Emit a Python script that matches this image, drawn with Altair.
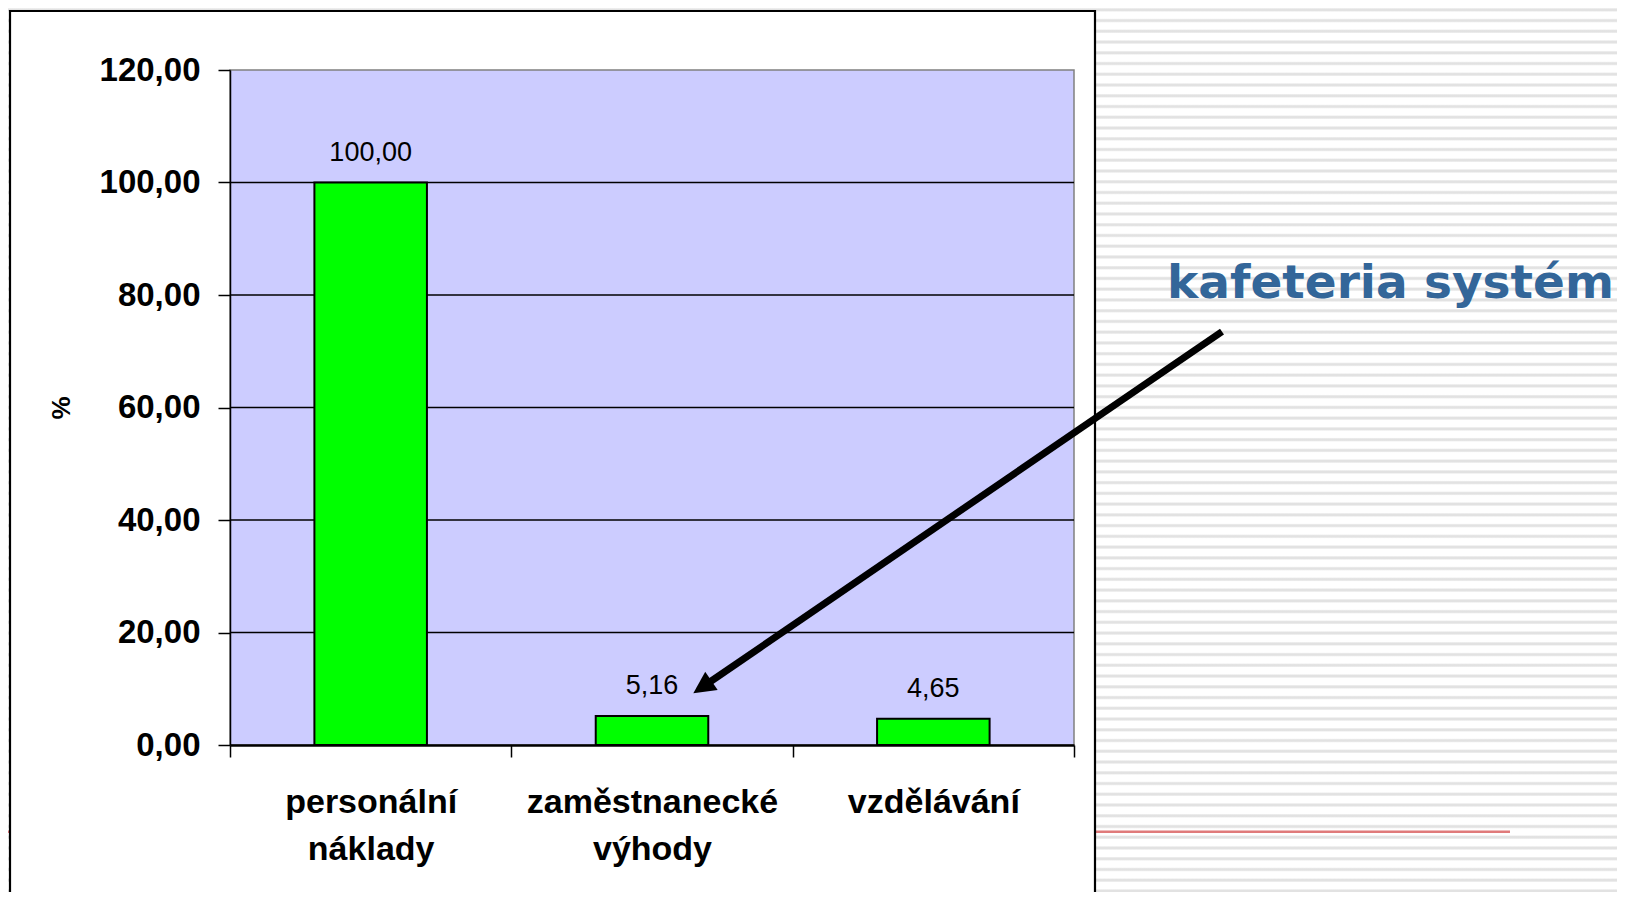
import altair as alt
import pandas as pd

# ---- data ----
categories = ["personální náklady", "zaměstnanecké výhody", "vzdělávání"]
values = [100.00, 5.16, 4.65]
y_ticks = [0, 20, 40, 60, 80, 100, 120]
grid_values = [20, 40, 60, 80, 100]
annotation = "kafeteria systém"
y_title = "%"

# ---- layout ----
W, H = 844, 675            # plot area
PAD_L, PAD_T = 222, 62     # plot area starts at page (230, 70)
TOTAL_W, TOTAL_H = 1609, 884
FONT = "Liberation Sans"


def cx(px):
    return px - 8 - PAD_L


def cy(py):
    return py - 8 - PAD_T


one = pd.DataFrame({"k": [0]})
bars_df = pd.DataFrame({"category": categories, "value": values})
grid_df = pd.DataFrame({"value": grid_values})

# ---- striped slide background as a gradient ----
def off(py):
    return min(max((py - 8) / TOTAL_H, 0.0), 1.0)

stops = [{"offset": 0.0, "color": "#ffffff"}]
c = 9.8
period = 10.746
while c - 3 < 8 + TOTAL_H:
    for d, col in [(-2.2, "#ffffff"), (-1.4, "#eeeeee"), (-0.7, "#e2e2e2"),
                   (0.7, "#e2e2e2"), (1.4, "#eeeeee"), (2.2, "#ffffff")]:
        o = off(c + d)
        if o >= stops[-1]["offset"]:
            stops.append({"offset": o, "color": col})
    c += period
stops.append({"offset": 1.0, "color": "#ffffff"})

stripes = alt.Chart(one).mark_rect(
    fill={"gradient": "linear", "x1": 0, "y1": 0, "x2": 0, "y2": 1, "stops": stops}
).encode(
    x=alt.value(cx(8)), x2=alt.value(cx(8 + TOTAL_W)),
    y=alt.value(cy(8)), y2=alt.value(cy(8 + TOTAL_H)),
)

redline = alt.Chart(one).mark_rule(color="#E07A7A", strokeWidth=2.5).encode(
    x=alt.value(cx(8)), x2=alt.value(cx(1510)),
    y=alt.value(cy(831.7)),
)

box = alt.Chart(one).mark_rect(fill="white", stroke="black", strokeWidth=2.2).encode(
    x=alt.value(cx(10)), x2=alt.value(cx(1095)),
    y=alt.value(cy(11)), y2=alt.value(cy(960)),
)

plotbg = alt.Chart(one).mark_rect(fill="#CCCCFF", stroke="#808080", strokeWidth=1.5).encode(
    x=alt.value(0), x2=alt.value(W),
    y=alt.value(0), y2=alt.value(H),
)

x_enc = alt.X(
    "category:N",
    sort=categories,
    scale=alt.Scale(paddingInner=0, paddingOuter=0),
    axis=alt.Axis(
        title=None, labelAngle=0, labelExpr="split(datum.label, ' ')",
        labelFont=FONT, labelFontSize=34, labelFontWeight="bold", labelColor="black",
        labelLineHeight=47, labelPadding=28, labelLimit=400,
        tickSize=12, tickColor="black", tickWidth=1.5, tickBand="extent",
        domainColor="black", domainWidth=2.5, grid=False, zindex=1,
    ),
)

y_enc = alt.Y(
    "value:Q",
    scale=alt.Scale(domain=[0, 120], nice=False),
    axis=alt.Axis(
        values=y_ticks,
        labelExpr="replace(format(datum.value, '.2f'), '.', ',')",
        labelFont=FONT, labelFontSize=33, labelFontWeight="bold", labelColor="black",
        labelPadding=18, labelLimit=300,
        tickSize=12, tickColor="black", tickWidth=1.5,
        domainColor="black", domainWidth=1.5, grid=False, zindex=1,
        title=y_title, titleFont=FONT, titleFontSize=26, titleFontWeight="bold",
        titleColor="black", titleX=-169, titleY=H / 2, titleAngle=270,
        titleAlign="center", titleBaseline="middle",
    ),
)

grid = alt.Chart(grid_df).mark_rule(color="black", strokeWidth=1.5).encode(
    x=alt.value(0), x2=alt.value(W), y=y_enc,
)

bars = alt.Chart(bars_df).mark_bar(
    color="#00FF00", stroke="black", strokeWidth=2, width={"band": 0.4}
).encode(x=x_enc, y=y_enc)

labels = alt.Chart(bars_df).transform_calculate(
    label="replace(format(datum.value, '.2f'), '.', ',')"
).mark_text(
    font=FONT, fontSize=27, color="black", baseline="alphabetic", dy=-22
).encode(x=x_enc, y=y_enc, text="label:N")

# ---- annotation arrow ----
arrow_line = alt.Chart(one).mark_rule(color="black", strokeWidth=7, strokeCap="butt").encode(
    x=alt.value(cx(1222)), y=alt.value(cy(331.7)),
    x2=alt.value(cx(709.8)), y2=alt.value(cy(682)),
)

arrow_head = alt.Chart(one).mark_point(
    shape="M0,0L-1,2L1,2Z", filled=True, color="black", opacity=1,
    size=484, angle=235.6,
).encode(x=alt.value(cx(693.3)), y=alt.value(cy(693.3)))

note = alt.Chart(one).mark_text(
    text=annotation, font="DejaVu Sans", fontSize=47, fontWeight="bold",
    color="#336699", align="left", baseline="alphabetic",
).encode(x=alt.value(cx(1167)), y=alt.value(cy(298)))

chart = alt.layer(
    stripes, redline, box, plotbg, grid, bars, labels, arrow_line, arrow_head, note
).properties(
    width=W, height=H,
    autosize=alt.AutoSizeParams(type="none"),
    padding={"left": PAD_L, "top": PAD_T,
             "right": TOTAL_W - PAD_L - W, "bottom": TOTAL_H - PAD_T - H},
    background="white",
).configure_view(stroke=None)

chart.save("out.html", embed_options={"renderer": "svg", "actions": False})
